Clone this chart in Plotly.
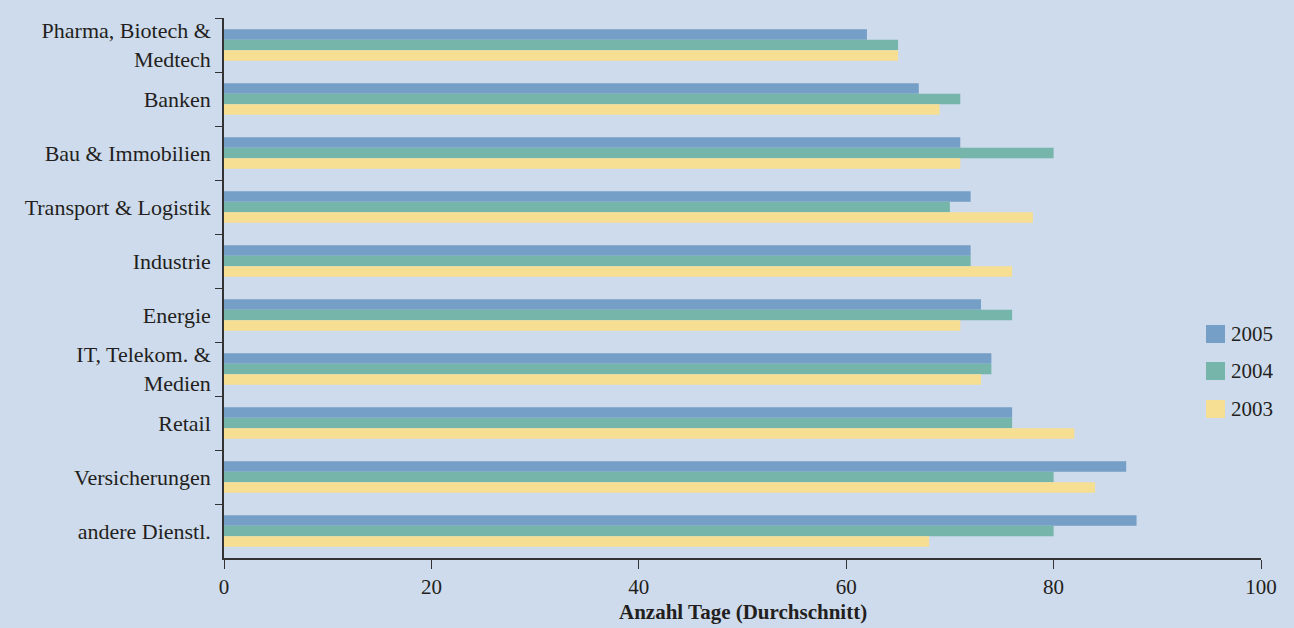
import plotly.graph_objects as go

categories = [
    "Pharma, Biotech &<br>Medtech",
    "Banken",
    "Bau & Immobilien",
    "Transport & Logistik",
    "Industrie",
    "Energie",
    "IT, Telekom. &<br>Medien",
    "Retail",
    "Versicherungen",
    "andere Dienstl.",
]
series_names = ["2005", "2004", "2003"]
values_2005 = [62, 67, 71, 72, 72, 73, 74, 76, 87, 88]
values_2004 = [65, 71, 80, 70, 72, 76, 74, 76, 80, 80]
values_2003 = [65, 69, 71, 78, 76, 71, 73, 82, 84, 68]
colors = ["#759FC6", "#76B5AA", "#F6DF92"]
x_ticks = [0, 20, 40, 60, 80, 100]
x_title = "Anzahl Tage (Durchschnitt)"

BG = "#CEDBEC"
TXT = "#231F20"
FONT = "Liberation Serif"

PLOT_TOP, PLOT_BOTTOM, PLOT_LEFT, PLOT_RIGHT = 18, 558, 224, 1261
PH = PLOT_BOTTOM - PLOT_TOP
PW = PLOT_RIGHT - PLOT_LEFT

fig = go.Figure()
for name, vals, col in zip(series_names, [values_2005, values_2004, values_2003], colors):
    fig.add_trace(go.Bar(
        y=categories, x=vals, name=name, orientation="h",
        marker=dict(color=col, line=dict(width=0)),
        showlegend=False,
    ))

# legend drawn as shapes + annotations
shapes = []
annotations = []
legend_py = [334, 371, 409]  # pixel centre of each legend item
for name, col, py in zip(series_names, colors, legend_py):
    yy = (PLOT_BOTTOM - py) / PH
    shapes.append(dict(
        type="rect", xref="paper", yref="paper",
        x0=(1206 - PLOT_LEFT) / PW, x1=(1225 - PLOT_LEFT) / PW,
        y0=yy - 9 / PH, y1=yy + 9 / PH,
        fillcolor=col, line=dict(width=0),
    ))
    annotations.append(dict(
        xref="paper", yref="paper", x=(1229 - PLOT_LEFT) / PW, y=yy,
        text=name, showarrow=False, xanchor="left", yanchor="middle",
        font=dict(family=FONT, size=21, color=TXT),
    ))

# axis title as annotation
annotations.append(dict(
    xref="paper", yref="paper", x=0.5, y=(PLOT_BOTTOM - 612) / PH,
    text="<b>" + x_title + "</b>", showarrow=False,
    xanchor="center", yanchor="middle",
    font=dict(family=FONT, size=21, color=TXT),
))

fig.update_layout(
    width=1294, height=628,
    margin=dict(l=PLOT_LEFT, r=1294 - PLOT_RIGHT, t=PLOT_TOP, b=628 - PLOT_BOTTOM),
    paper_bgcolor=BG, plot_bgcolor=BG,
    barmode="group", bargap=0.42, bargroupgap=0,
    font=dict(family=FONT, size=22, color=TXT),
    shapes=shapes, annotations=annotations,
    xaxis=dict(
        range=[0, 100], tickvals=x_ticks, showgrid=False, zeroline=False,
        showline=True, linecolor="#333333", linewidth=1.5,
        ticks="outside", ticklen=9, tickcolor="#333333", tickwidth=1.2,
        tickfont=dict(family=FONT, size=21, color=TXT),
        automargin=False,
    ),
    yaxis=dict(
        type="category", autorange="reversed", showgrid=False,
        showline=True, linecolor="#333333", linewidth=1.5,
        ticks="outside", ticklen=7, tickcolor="#333333", tickwidth=1.2,
        tickson="boundaries", ticklabelstandoff=7,
        tickfont=dict(family=FONT, size=22, color=TXT),
        automargin=False,
    ),
)

fig.write_html("out.html")
